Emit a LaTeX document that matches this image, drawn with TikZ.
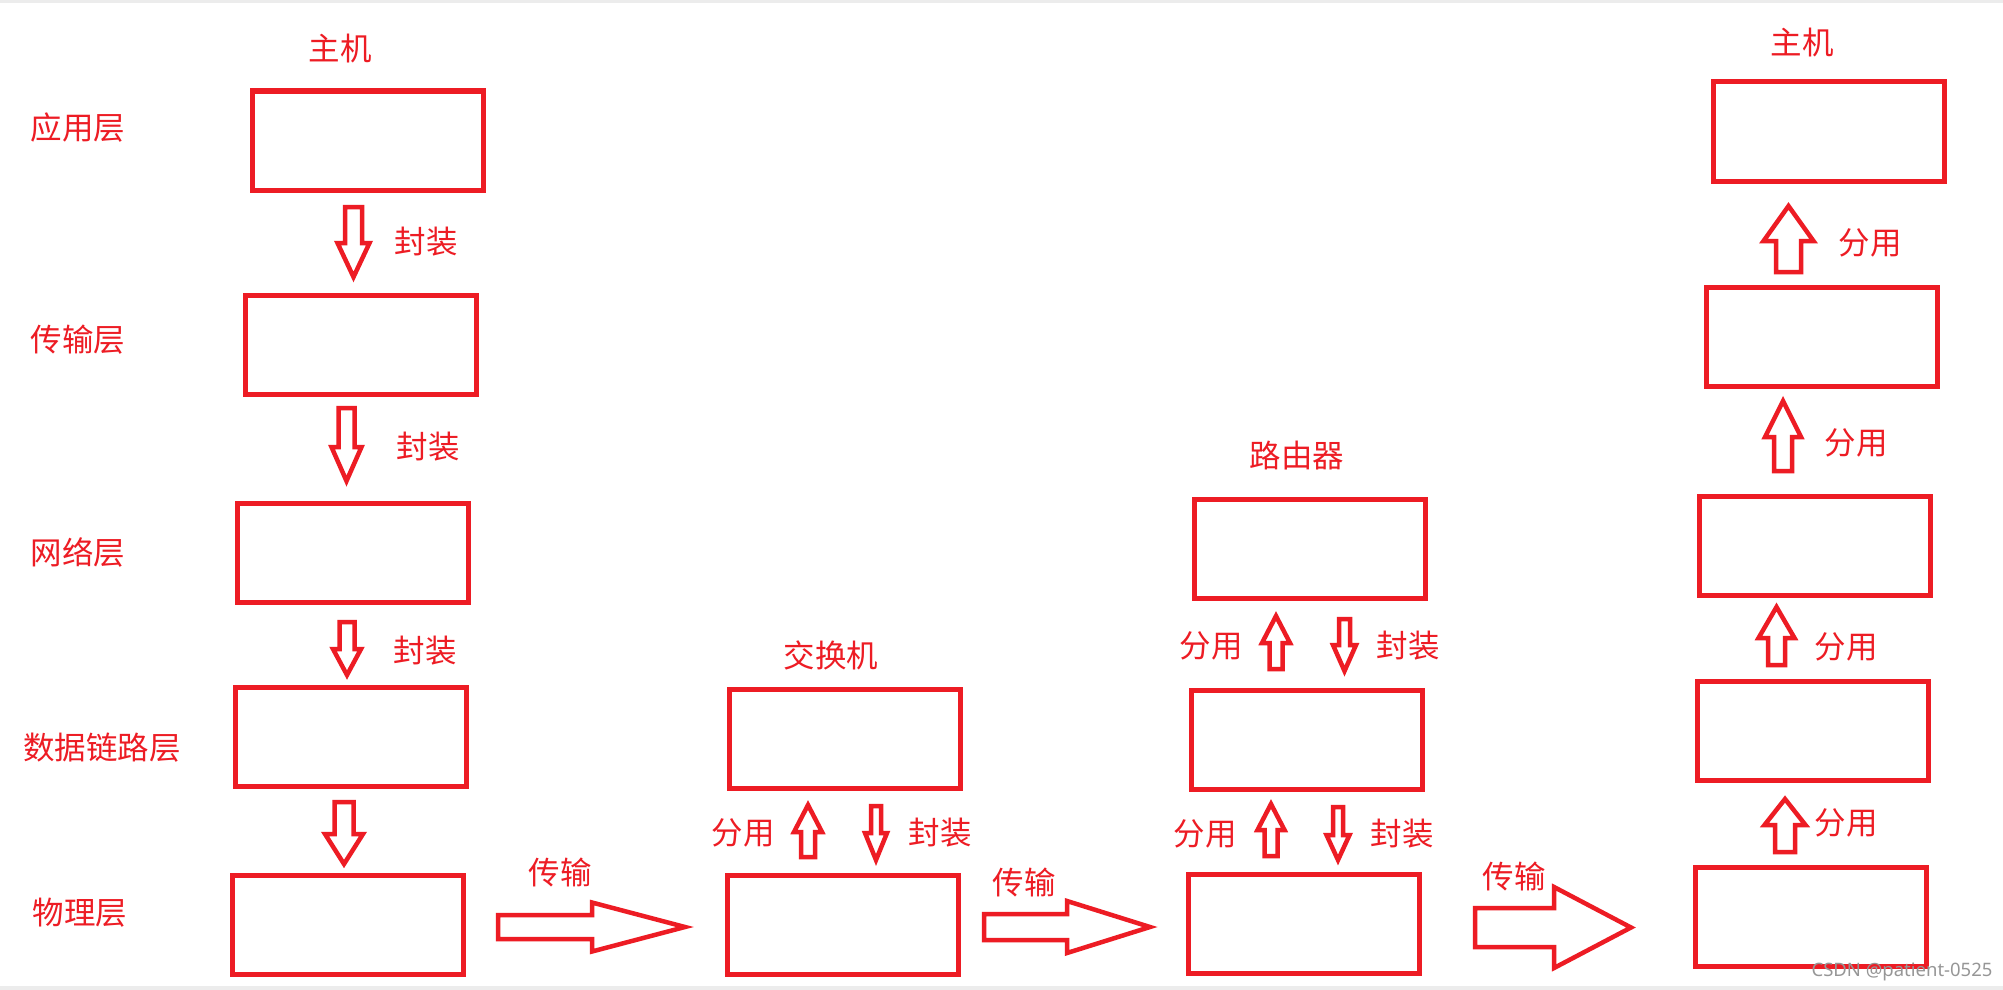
\documentclass[tikz,border=0pt]{standalone}
\usepackage{fontspec}
\setmainfont{Noto Sans CJK SC}
\newfontfamily\wmfont{Noto Sans}
\definecolor{pr}{RGB}{237,28,36}
\definecolor{edgegray}{RGB}{236,236,236}
\definecolor{wmgray}{RGB}{150,150,150}
\tikzset{
  box/.style={draw=pr, line width=5pt, minimum width=231pt, minimum height=99pt, inner sep=0pt},
  lbl/.style={text=pr, font=\fontsize{31.5}{31.5}\selectfont, inner sep=0pt},
  blk/.style={draw=pr, line width=4.5pt, line join=miter},
}
\newcommand\varrow[6]{% x, ystart, yhead, ytip, shaft half, head half
  \draw[blk] ({#1-#5},#2) -- ({#1+#5},#2) -- ({#1+#5},#3) -- ({#1+#6},#3) -- (#1,#4) -- ({#1-#6},#3) -- ({#1-#5},#3) -- cycle;}
\newcommand\harrow[6]{% y, xstart, xhead, xtip, shaft half, head half
  \draw[blk] (#2,{#1-#5}) -- (#3,{#1-#5}) -- (#3,{#1-#6}) -- (#4,#1) -- (#3,{#1+#6}) -- (#3,{#1+#5}) -- (#2,{#1+#5}) -- cycle;}
\begin{document}
\begin{tikzpicture}[x=1pt,y=-1pt]
\useasboundingbox (0,0) rectangle (2003,990);
\fill[white] (0,0) rectangle (2003,990);
\fill[edgegray] (0,0) rectangle (2003,3.5);
\fill[edgegray] (0,985.5) rectangle (2003,990);

% layer labels
\node[lbl] (l1) at (78,128) {应用层};
\node[lbl] (l2) at (78,340) {传输层};
\node[lbl] (l3) at (78,552) {网络层};
\node[lbl] (l4) at (102,748) {数据链路层};
\node[lbl] (l5) at (80,913) {物理层};

% host 1
\node[lbl] (t1) at (340,49) {主机};
\node[box] (a1) at (367.5,140.5) {};
\node[box] (a2) at (360.5,344.5) {};
\node[box] (a3) at (353,552.5) {};
\node[box] (a4) at (351,737) {};
\node[box] (a5) at (347.5,925) {};
\varrow{353.5}{207}{243}{277}{8.5}{16}
\varrow{346.5}{408}{447}{481}{8}{15}
\varrow{347}{622}{649}{675}{7.5}{14}
\varrow{344}{802}{834}{864}{9.5}{19}
\node[lbl] (f1) at (426,242) {封装};
\node[lbl] (f2) at (428,447) {封装};
\node[lbl] (f3) at (425,651) {封装};

% switch
\node[lbl] (t2) at (831,655) {交换机};
\node[box] (s1) at (844.5,739) {};
\node[box] (s2) at (843,924.5) {};
\varrow{808}{857}{832}{805}{7}{14}
\varrow{876}{806}{833}{860}{5}{11}
\node[lbl] (s3) at (743,833) {分用};
\node[lbl] (s4) at (940,833) {封装};

% router
\node[lbl] (t3) at (1297,456) {路由器};
\node[box] (r1) at (1309.5,549) {};
\node[box] (r2) at (1306.5,739.5) {};
\node[box] (r3) at (1304,924) {};
\varrow{1276}{669}{643}{616}{6.5}{14}
\varrow{1344.5}{619}{645}{671}{5.5}{11.5}
\varrow{1271}{856}{830}{804}{6.5}{13.5}
\varrow{1338}{807}{835}{860}{5}{11.5}
\node[lbl] (r4) at (1211,646) {分用};
\node[lbl] (r5) at (1408,646) {封装};
\node[lbl] (r6) at (1205,834) {分用};
\node[lbl] (r7) at (1402,834) {封装};

% host 2
\node[lbl] (t4) at (1802,43) {主机};
\node[box] (h1) at (1829,131.5) {};
\node[box] (h2) at (1822,336.5) {};
\node[box] (h3) at (1815,545.5) {};
\node[box] (h4) at (1812.5,730.5) {};
\node[box] (h5) at (1810.5,917) {};
\varrow{1788.5}{272}{241}{206}{12.5}{25}
\varrow{1783}{471}{437}{401}{9}{18}
\varrow{1776.5}{665}{638}{607}{8.5}{18}
\varrow{1785}{852}{825}{799}{10}{20.5}
\node[lbl] (h6) at (1870,243) {分用};
\node[lbl] (h7) at (1856,443) {分用};
\node[lbl] (h8) at (1846,647) {分用};
\node[lbl] (h9) at (1846,823) {分用};

% transmission arrows
\harrow{927}{498}{592}{685}{12}{24.5}
\harrow{927}{984}{1067}{1150}{13}{26}
\harrow{927.5}{1475}{1554}{1631}{19.5}{40.5}
\node[lbl] (c1) at (560,872) {传输};
\node[lbl] (c2) at (1024,882) {传输};
\node[lbl] (c3) at (1514,876) {传输};

% watermark
\node[text=wmgray, font=\wmfont\fontsize{18.5}{18.5}\selectfont, inner sep=0pt] (wm) at (1902,972) {CSDN @patient-0525};
\end{tikzpicture}
\end{document}
